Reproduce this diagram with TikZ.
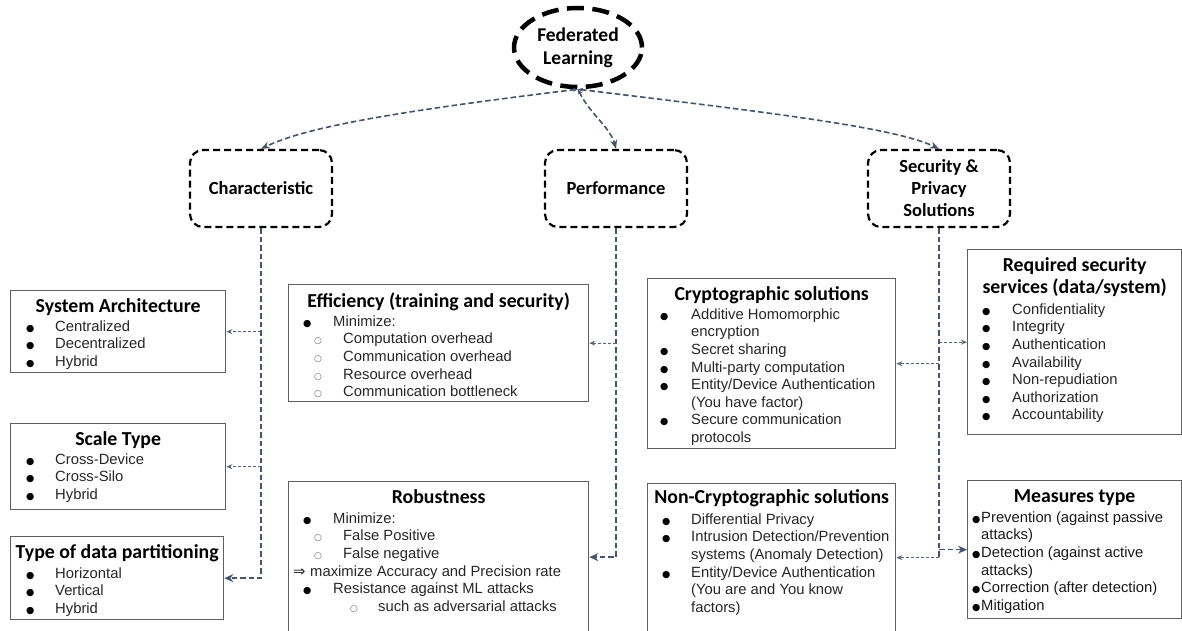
\documentclass[tikz,border=0pt]{standalone}
\usepackage{fontspec}
\setmainfont{Liberation Sans}
\newfontfamily\ttl{Carlito}
\newfontfamily\sym{DejaVu Sans}
\usetikzlibrary{arrows.meta,shapes.geometric}

\definecolor{conn}{RGB}{68,84,106}
\definecolor{boxline}{RGB}{95,95,95}
\definecolor{itemtxt}{RGB}{38,38,38}

% list helpers: indent, label box width, label
\newcommand\li[3]{\hspace*{#1pt}\makebox[#2pt][l]{#3}}
\newcommand\blt{{\sym\fontsize{9.5}{9.5}\selectfont\color{black}●}}
\newcommand\wc{{\sym\fontsize{9}{9}\selectfont\color{black!60}○}}

\begin{document}
\begin{tikzpicture}[x=1pt,y=-1pt,
  box/.style={draw=boxline, line width=1.3pt, inner sep=0pt, anchor=north west},
  ttlnode/.style={font=\ttl\bfseries\fontsize{19.8}{22}\selectfont, anchor=north, inner sep=0pt, align=center},
  items/.style={font=\fontsize{14.8}{17.6}\selectfont, text=itemtxt, anchor=north west, inner sep=0pt, align=left},
  topbox/.style={draw=black, line width=2.2pt, dash pattern=on 7pt off 4pt, rounded corners=13pt,
    minimum width=142pt, minimum height=77pt, inner sep=0pt, align=center,
    font=\ttl\bfseries\fontsize{18.5}{22}\selectfont},
  trunk/.style={draw=conn, line width=1.6pt, dash pattern=on 5.5pt off 3pt},
  twig/.style={draw=conn!90, line width=1.1pt, dash pattern=on 3pt off 2pt, -{Stealth[length=6pt,width=5pt]}},
  bigtip/.style={-{Stealth[length=9pt,width=8pt]}}
]
\clip (0,0) rectangle (1182,631);

% root
\node[ellipse, draw=black, line width=4.5pt, dash pattern=on 17pt off 8.5pt,
  minimum width=128pt, minimum height=79pt, inner sep=0pt, align=center,
  font=\ttl\bfseries\fontsize{19.5}{23}\selectfont] (fl) at (578,47.5) {Federated\\Learning};

% second level
\node[topbox] (char) at (261,188.5) {Characteristic};
\node[topbox] (perf) at (616,188.5) {Performance};
\node[topbox] (sec) at (939,188.5) {Security \&\\Privacy\\Solutions};

% characteristic boxes
\node[box, minimum width=215pt, minimum height=82pt] (sys) at (10,290) {};
\node[ttlnode] (sysT) at (sys.north |- 0,296.6) {\strut System Architecture};
\node[items] (sysL) at (26,318.7) {\strut\li{0}{29}{\blt}Centralized\\
  \li{0}{29}{\blt}Decentralized\\
  \li{0}{29}{\blt}Hybrid};

\node[box, minimum width=215pt, minimum height=86pt] (scale) at (10,423) {};
\node[ttlnode] (scaleT) at (scale.north |- 0,429.6) {\strut Scale Type};
\node[items] (scaleL) at (26,451.7) {\strut\li{0}{29}{\blt}Cross-Device\\
  \li{0}{29}{\blt}Cross-Silo\\
  \li{0}{29}{\blt}Hybrid};

\node[box, minimum width=213pt, minimum height=83pt] (part) at (10,536) {};
\node[ttlnode] (partT) at (part.north |- 0,542.6) {\strut Type of data partitioning};
\node[items] (partL) at (26,565.7) {\strut\li{0}{29}{\blt}Horizontal\\
  \li{0}{29}{\blt}Vertical\\
  \li{0}{29}{\blt}Hybrid};

% performance boxes
\node[box, minimum width=300pt, minimum height=117pt] (eff) at (288,284) {};
\node[ttlnode] (effT) at (eff.north |- 0,291.6) {\strut Efficiency (training and security)};
\node[items] (effL) at (303,313.7) {\strut\li{0}{30}{\blt}Minimize:\\
  \li{11}{29}{\wc}Computation overhead\\
  \li{11}{29}{\wc}Communication overhead\\
  \li{11}{29}{\wc}Resource overhead\\
  \li{11}{29}{\wc}Communication bottleneck};

\node[box, minimum width=300pt, minimum height=151pt] (rob) at (288,481) {};
\node[ttlnode] (robT) at (rob.north |- 0,487.6) {\strut Robustness};
\node[items] (robL) at (293,510.7) {\strut\li{10}{30}{\blt}Minimize:\\
  \li{21}{29}{\wc}False Positive\\
  \li{21}{29}{\wc}False negative\\
  \li{0}{17}{\sym ⇒}maximize Accuracy and Precision rate\\
  \li{10}{30}{\blt}Resistance against ML attacks\\
  \li{57}{28}{\wc}such as adversarial attacks};

% security boxes
\node[box, minimum width=248pt, minimum height=170pt] (cry) at (647,278) {};
\node[ttlnode] (cryT) at (cry.north |- 0,284.6) {\strut Cryptographic solutions};
\node[items] (cryL) at (660,306.7) {\strut\li{0}{31}{\blt}Additive Homomorphic\\
  \hspace*{31pt}encryption\\
  \li{0}{31}{\blt}Secret sharing\\
  \li{0}{31}{\blt}Multi-party computation\\
  \li{0}{31}{\blt}Entity/Device Authentication\\
  \hspace*{31pt}(You have factor)\\
  \li{0}{31}{\blt}Secure communication\\
  \hspace*{31pt}protocols};

\node[box, minimum width=248pt, minimum height=148pt] (ncr) at (647,483) {};
\node[ttlnode] (ncrT) at (ncr.north |- 0,487.6) {\strut Non-Cryptographic solutions};
\node[items] (ncrL) at (662,511.7) {\strut\li{0}{29}{\blt}Differential Privacy\\
  \li{0}{29}{\blt}Intrusion Detection/Prevention\\
  \hspace*{29pt}systems (Anomaly Detection)\\
  \li{0}{29}{\blt}Entity/Device Authentication\\
  \hspace*{29pt}(You are and You know\\
  \hspace*{29pt}factors)};

\node[box, minimum width=214pt, minimum height=185pt] (req) at (967,249) {};
\node[ttlnode] (reqT) at (req.north |- 0,255.6) {\strut Required security\\services (data/system)};
\node[items] (reqL) at (982,301.7) {\strut\li{0}{30}{\blt}Confidentiality\\
  \li{0}{30}{\blt}Integrity\\
  \li{0}{30}{\blt}Authentication\\
  \li{0}{30}{\blt}Availability\\
  \li{0}{30}{\blt}Non-repudiation\\
  \li{0}{30}{\blt}Authorization\\
  \li{0}{30}{\blt}Accountability};

\node[box, minimum width=214pt, minimum height=138pt] (meas) at (967,480) {};
\node[ttlnode] (measT) at (meas.north |- 0,486.6) {\strut Measures type};
\node[items, text=black!90] (measL) at (972,509.7) {\strut\li{0}{9}{\blt}Prevention (against passive\\
  \hspace*{9pt}attacks)\\
  \li{0}{9}{\blt}Detection (against active\\
  \hspace*{9pt}attacks)\\
  \li{0}{9}{\blt}Correction (after detection)\\
  \li{0}{9}{\blt}Mitigation};

% root to second level
\draw[trunk, {Stealth[length=5pt,width=4pt]}-{Stealth[length=9pt,width=7pt]}]
  (fl.south) .. controls +(-180,22) and +(45,-22) .. (char.north);
\draw[trunk, {Stealth[length=5pt,width=4pt]}-{Stealth[length=9pt,width=7pt]}]
  (fl.south) .. controls +(12,25) and +(-6,-22) .. (perf.north);
\draw[trunk, {Stealth[length=5pt,width=4pt]}-{Stealth[length=9pt,width=7pt]}]
  (fl.south) .. controls +(180,22) and +(-45,-22) .. (sec.north);

% characteristic branch
\draw[trunk, bigtip] (char.south) |- (part.east);
\draw[twig] (char.south |- sys.east) -- (sys.east);
\draw[twig] (char.south |- scale.east) -- (scale.east);

% performance branch
\draw[trunk, bigtip] (perf.south) |- (rob.east);
\draw[twig] (perf.south |- eff.east) -- (eff.east);

% security branch
\draw[trunk] (sec.south) -- (sec.south |- ncr.east);
\draw[trunk, bigtip] (sec.south |- meas.west) -- (meas.west);
\draw[twig] (sec.south |- ncr.east) -- (ncr.east);
\draw[twig] (sec.south |- req.west) -- (req.west);
\draw[twig] (sec.south |- cry.east) -- (cry.east);
\end{tikzpicture}
\end{document}
